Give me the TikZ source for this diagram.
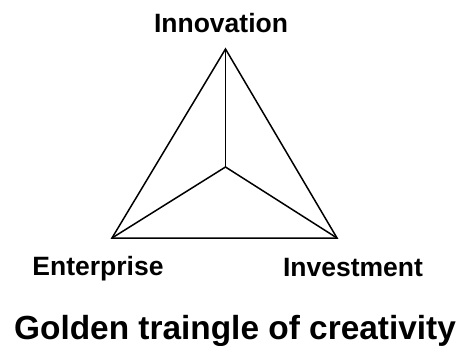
\documentclass[tikz,border=0pt]{standalone}
\usepackage{fontspec}
\setmainfont{Liberation Sans}
\usetikzlibrary{positioning}

\begin{document}
\begin{tikzpicture}[x=1pt, y=-1pt, label/.style={font=\bfseries\fontsize{26.5}{30}\selectfont, anchor=base, inner sep=0pt}, title/.style={font=\bfseries\fontsize{33.4}{38}\selectfont, anchor=base, inner sep=0pt}, edge/.style={line width=1.5pt, line join=miter}]
	\useasboundingbox (0,0) rectangle (462,345);

	% Corners
	\coordinate (inno) at (225.5,49);
	\coordinate (entr) at (112,238);
	\coordinate (inve) at (337,238);
	\coordinate (mid) at (225.5,167);

	% Labels
	\node[label] (innotext) at (221,33) {Innovation};
	\node[label] (entrtext) at (98,275) {Enterprise};
	\node[label] (invetext) at (353,276) {Investment};
	\node[title] (caption) at (235,339) {Golden traingle of creativity};

	% Outer triangle
	\draw[edge] (inno) -- (entr) -- (inve) -- cycle;

	% Spokes
	\draw[edge] (mid) -- (inno);
	\draw[edge] (mid) -- (entr);
	\draw[edge] (mid) -- (inve);
\end{tikzpicture}
\end{document}
